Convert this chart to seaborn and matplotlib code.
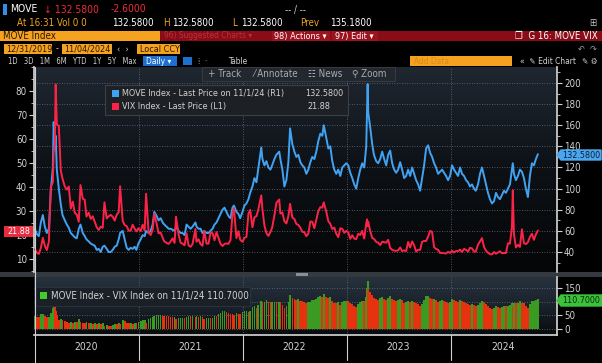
import matplotlib
matplotlib.use("Agg")
import matplotlib.pyplot as plt
import matplotlib.dates as mdates
import matplotlib.transforms as mtransforms
from matplotlib.patches import Rectangle, Polygon
from matplotlib.lines import Line2D
from matplotlib.colors import LinearSegmentedColormap
from matplotlib.ticker import MultipleLocator
import numpy as np
import pandas as pd
import seaborn as sns

# weekly closes (plus the spike days)
dates_2020 = ['2020-01-03', '2020-01-10', '2020-01-17', '2020-01-24', '2020-01-31',
              '2020-02-07', '2020-02-14', '2020-02-21', '2020-02-28',
              '2020-03-06', '2020-03-09', '2020-03-13', '2020-03-16', '2020-03-20', '2020-03-27',
              '2020-04-03', '2020-04-09', '2020-04-17', '2020-04-24',
              '2020-05-01', '2020-05-08', '2020-05-15', '2020-05-22', '2020-05-29',
              '2020-06-05', '2020-06-11', '2020-06-19', '2020-06-26',
              '2020-07-02', '2020-07-10', '2020-07-17', '2020-07-24', '2020-07-31',
              '2020-08-07', '2020-08-14', '2020-08-21', '2020-08-28',
              '2020-09-03', '2020-09-11', '2020-09-18', '2020-09-25',
              '2020-10-02', '2020-10-09', '2020-10-16', '2020-10-23', '2020-10-28',
              '2020-11-06', '2020-11-13', '2020-11-20', '2020-11-27',
              '2020-12-04', '2020-12-11', '2020-12-18', '2020-12-24', '2020-12-31']
vix_2020 = [14.0, 12.6, 12.1, 14.6, 18.8, 15.5, 13.7, 17.1, 40.1,
            41.9, 54.5, 57.8, 82.7, 66.0, 65.5, 46.8, 43.5, 40.2, 38.9,
            40.2, 31.0, 33.9, 29.2, 28.5, 25.5, 40.8, 35.1, 34.7,
            27.7, 29.3, 26.7, 27.8, 25.5, 23.2, 22.1, 23.5, 23.0,
            33.6, 26.9, 27.8, 28.4, 27.6, 26.0, 28.4, 29.6, 40.3,
            25.9, 24.1, 23.7, 21.8, 21.8, 24.3, 22.6, 21.5, 22.8]
move_2020 = [62, 57, 55, 68, 75, 64, 58, 62, 98,
             120, 163, 140, 150, 118, 100, 85, 75, 70, 66,
             63, 58, 56, 54, 53, 62, 66, 58, 55,
             52, 50, 48, 47, 46, 42, 43, 40, 45,
             46, 43, 40, 40, 42, 45, 46, 52, 58,
             60, 52, 44, 42, 44, 43, 45, 42, 48]

dates_2021 = ['2021-01-08', '2021-01-15', '2021-01-22', '2021-01-27',
              '2021-02-05', '2021-02-12', '2021-02-19', '2021-02-25',
              '2021-03-05', '2021-03-12', '2021-03-19', '2021-03-26',
              '2021-04-01', '2021-04-09', '2021-04-16', '2021-04-23', '2021-04-30',
              '2021-05-07', '2021-05-12', '2021-05-21', '2021-05-28',
              '2021-06-04', '2021-06-11', '2021-06-18', '2021-06-25',
              '2021-07-02', '2021-07-09', '2021-07-19', '2021-07-23', '2021-07-30',
              '2021-08-06', '2021-08-13', '2021-08-19', '2021-08-27',
              '2021-09-03', '2021-09-10', '2021-09-17', '2021-09-24',
              '2021-10-01', '2021-10-08', '2021-10-15', '2021-10-22', '2021-10-29',
              '2021-11-05', '2021-11-12', '2021-11-19', '2021-11-26',
              '2021-12-01', '2021-12-10', '2021-12-17', '2021-12-23', '2021-12-31']
vix_2021 = [21.6, 24.3, 21.9, 37.2, 20.9, 20.0, 22.1, 28.9,
            24.7, 20.7, 21.0, 18.9, 17.3, 16.7, 16.3, 17.3, 18.6,
            16.7, 27.6, 20.2, 16.8, 16.4, 15.7, 20.7, 15.6,
            15.1, 16.2, 22.5, 17.2, 18.2, 16.2, 15.5, 21.7, 16.4,
            16.4, 21.0, 20.8, 17.8, 21.2, 18.8, 16.3, 15.4, 16.3,
            16.5, 16.3, 17.9, 28.6, 31.1, 18.7, 21.6, 18.0, 17.2]
move_2021 = [52, 56, 55, 60, 58, 60, 66, 78,
             74, 70, 72, 68, 66, 64, 62, 62, 61,
             60, 64, 60, 58, 58, 56, 66, 64,
             62, 64, 68, 64, 62, 62, 58, 60, 58,
             58, 60, 62, 66, 68, 72, 76, 80, 82,
             78, 74, 72, 82, 84, 78, 76, 72, 78]

dates_2022 = ['2022-01-07', '2022-01-14', '2022-01-21', '2022-01-27',
              '2022-02-04', '2022-02-11', '2022-02-18', '2022-02-24',
              '2022-03-07', '2022-03-11', '2022-03-18', '2022-03-25',
              '2022-04-01', '2022-04-08', '2022-04-14', '2022-04-22', '2022-04-29',
              '2022-05-09', '2022-05-13', '2022-05-20', '2022-05-27',
              '2022-06-03', '2022-06-10', '2022-06-16', '2022-06-24',
              '2022-07-01', '2022-07-08', '2022-07-15', '2022-07-22', '2022-07-29',
              '2022-08-05', '2022-08-12', '2022-08-19', '2022-08-26',
              '2022-09-02', '2022-09-09', '2022-09-16', '2022-09-23', '2022-09-30',
              '2022-10-07', '2022-10-12', '2022-10-21', '2022-10-28',
              '2022-11-04', '2022-11-11', '2022-11-18', '2022-11-25',
              '2022-12-02', '2022-12-09', '2022-12-16', '2022-12-23', '2022-12-30']
vix_2022 = [18.8, 19.2, 28.9, 30.5, 23.2, 27.4, 27.8, 30.3,
            36.5, 30.8, 23.9, 20.8, 19.6, 21.2, 23.0, 28.2, 33.4,
            34.8, 28.9, 29.4, 25.7, 24.8, 27.8, 33.0, 27.2,
            26.7, 24.6, 24.2, 23.0, 21.3, 21.2, 19.5, 20.6, 25.6,
            25.5, 22.8, 26.3, 29.9, 31.6, 31.4, 33.6, 29.7, 25.8,
            24.6, 22.5, 23.1, 20.5, 19.1, 22.8, 22.6, 20.9, 21.7]
move_2022 = [84, 86, 90, 96, 102, 110, 106, 118,
             139, 128, 122, 126, 120, 118, 122, 128, 132,
             135, 128, 118, 102, 108, 125, 157, 142,
             135, 130, 132, 125, 122, 120, 114, 118, 125,
             130, 128, 135, 145, 152, 150, 160, 148, 138,
             140, 126, 118, 114, 118, 112, 120, 122, 124]

dates_2023 = ['2023-01-06', '2023-01-13', '2023-01-20', '2023-01-27',
              '2023-02-03', '2023-02-10', '2023-02-17', '2023-02-24',
              '2023-03-03', '2023-03-10', '2023-03-13', '2023-03-15', '2023-03-17', '2023-03-24', '2023-03-31',
              '2023-04-06', '2023-04-14', '2023-04-21', '2023-04-28',
              '2023-05-05', '2023-05-12', '2023-05-19', '2023-05-26',
              '2023-06-02', '2023-06-09', '2023-06-16', '2023-06-23', '2023-06-30',
              '2023-07-07', '2023-07-14', '2023-07-21', '2023-07-28',
              '2023-08-04', '2023-08-11', '2023-08-18', '2023-08-25',
              '2023-09-01', '2023-09-08', '2023-09-15', '2023-09-22', '2023-09-29',
              '2023-10-06', '2023-10-13', '2023-10-20', '2023-10-27',
              '2023-11-03', '2023-11-10', '2023-11-17', '2023-11-24',
              '2023-12-01', '2023-12-08', '2023-12-15', '2023-12-22', '2023-12-29']
vix_2023 = [21.1, 18.4, 19.9, 18.5, 18.3, 20.5, 20.0, 21.7,
            18.5, 24.8, 26.5, 23.7, 25.5, 21.7, 18.7,
            18.4, 17.1, 16.8, 15.8, 17.2, 17.0, 16.8, 18.0,
            14.6, 13.8, 13.5, 13.4, 13.6, 14.8, 13.3, 13.6, 13.3,
            17.1, 14.8, 17.3, 15.7, 13.1, 13.8, 13.8, 17.2, 17.5,
            17.5, 19.3, 21.7, 21.3, 14.9, 14.2, 13.8, 12.5,
            12.6, 12.4, 12.3, 13.0, 12.5]
move_2023 = [122, 115, 110, 104, 100, 110, 118, 124,
             120, 140, 175, 199, 172, 158, 142,
             132, 126, 124, 128, 135, 128, 122, 132,
             136, 124, 118, 115, 118, 125, 118, 110, 112,
             118, 112, 120, 114, 108, 104, 98, 110, 122,
             138, 141, 134, 130, 124, 120, 114, 116,
             118, 115, 112, 108, 112]

dates_2024 = ['2024-01-05', '2024-01-12', '2024-01-19', '2024-01-26',
              '2024-02-02', '2024-02-09', '2024-02-16', '2024-02-23',
              '2024-03-01', '2024-03-08', '2024-03-15', '2024-03-22', '2024-03-28',
              '2024-04-05', '2024-04-12', '2024-04-19', '2024-04-26',
              '2024-05-03', '2024-05-10', '2024-05-17', '2024-05-24', '2024-05-31',
              '2024-06-07', '2024-06-14', '2024-06-21', '2024-06-28',
              '2024-07-05', '2024-07-12', '2024-07-19', '2024-07-26',
              '2024-08-02', '2024-08-05', '2024-08-09', '2024-08-16', '2024-08-23', '2024-08-30',
              '2024-09-06', '2024-09-13', '2024-09-20', '2024-09-27',
              '2024-10-04', '2024-10-11', '2024-10-18', '2024-10-25', '2024-11-01']
vix_2024 = [13.4, 12.7, 13.3, 13.3, 13.9, 12.9, 14.2, 13.8,
            13.1, 14.7, 14.4, 13.1, 13.0, 16.0, 17.3, 18.7, 15.0,
            13.5, 12.6, 12.0, 11.9, 12.9, 12.2, 12.7, 13.2, 12.4,
            12.5, 12.5, 16.5, 16.4, 23.4, 38.6, 20.4, 14.8, 15.9, 15.0,
            22.4, 16.6, 16.2, 17.0, 19.2, 20.5, 18.0, 20.3, 21.88]
move_2024 = [122, 118, 115, 112, 120, 114, 112, 108,
             106, 102, 104, 100, 98, 104, 114, 120, 112,
             104, 96, 90, 86, 88, 96, 92, 90, 94,
             98, 96, 100, 104, 118, 124, 114, 108, 112, 118,
             116, 110, 100, 92, 112, 124, 122, 128, 132.58]

years = ['2020', '2021', '2022', '2023', '2024']
spread_ticks = [0, 50, 100, 150]
spread_labels = ['0', '50', '', '150']   # 100 sits under the last-value tag

df = pd.DataFrame({
    'date': pd.to_datetime(dates_2020 + dates_2021 + dates_2022 + dates_2023 + dates_2024),
    'VIX': vix_2020 + vix_2021 + vix_2022 + vix_2023 + vix_2024,
    'MOVE': move_2020 + move_2021 + move_2022 + move_2023 + move_2024,
})
df['spread'] = df['MOVE'] - df['VIX']
df['up'] = df['spread'].diff().fillna(0) >= 0

sns.set_theme(style="dark")
plt.rcParams['font.family'] = ['DejaVu Sans']
plt.rcParams['font.stretch'] = 'condensed'
plt.rcParams['axes.facecolor'] = 'none'

W, H = 602, 363
fig = plt.figure(figsize=(W / 100, H / 100), dpi=100, facecolor='black')


def frect(x0, y0, x1, y1):
    return [x0 / W, 1 - y1 / H, (x1 - x0) / W, (y1 - y0) / H]


def box(x0, y0, x1, y1, color, z=1):
    fig.patches.append(Rectangle((x0 / W, 1 - y1 / H), (x1 - x0) / W, (y1 - y0) / H,
                                 transform=fig.transFigure, color=color, zorder=z, lw=0))


def txt(x, y, s, color, size=7, ha='left', **kw):
    fig.text(x / W, 1 - y / H, s, color=color, fontsize=size, ha=ha, va='center', **kw)


AMBER = '#f4a21f'
GRAY = '#d2d2d2'
BLUE = '#41a2f2'
RED = '#fb2448'

# ---- header rows ----
box(3, 4, 7, 15, '#2f8fe6')
txt(10, 9.5, 'MOVE', 'white', 7.5)
txt(44, 9.5, '↓ 132.5800', '#ee2a3a', 7.5)
txt(111, 9.5, '-2.6000', '#ee2a3a', 7.5)
txt(285, 9.5, '-- / --', '#cfcfcf', 7)
txt(17, 23, 'At 16:31 Vol 0 0', AMBER, 7)
txt(112, 23, '132.5800', 'white', 7)
txt(163, 23, 'H', AMBER, 7)
txt(172, 23, '132.5800', 'white', 7)
txt(232, 23, 'L', AMBER, 7)
txt(241, 23, '132.5800', 'white', 7)
txt(300, 23, 'Prev', AMBER, 7)
txt(330, 23, '135.1800', 'white', 7)
txt(597, 23, '⊞', '#bdbdbd', 7, ha='right')

box(0, 31, 160, 41, AMBER)
box(160, 31, 602, 41, '#8a0c16')
box(272, 31, 330, 41, '#9c1320')
box(332, 31, 378, 41, '#9c1320')
txt(3, 36, 'MOVE Index', '#2a1600', 7)
txt(164, 36, '96) Suggested Charts ▾', '#b8323c', 6)
txt(274, 36, '98) Actions ▾', 'white', 6.5)
txt(335, 36, '97) Edit ▾', 'white', 6.5)
txt(598, 36, '❐  G 16: MOVE VIX', 'white', 7, ha='right')

box(4, 44, 52, 54, AMBER)
box(62, 44, 112, 54, AMBER)
box(137, 44, 180, 54, AMBER)
txt(6, 49, '12/31/2019', '#2a1600', 6.5)
txt(56, 49, '-', GRAY, 6.5)
txt(64, 49, '11/04/2024', '#2a1600', 6.5)
txt(117, 49, '‹  ›', GRAY, 6.5)
txt(140, 49, 'Local CCY', '#2a1600', 6.5)
txt(597, 49, '↶  ↷', '#9a9a9a', 6.5, ha='right')

txt(8, 61, '1D   3D   1M   6M   YTD   1Y   5Y   Max', GRAY, 5.5)
box(143, 56, 177, 66, '#1f6fd0')
txt(146, 61, 'Daily ▾', 'white', 6)
box(183, 57, 192, 65, '#1f6fd0')
txt(198, 61, '⁞  ·', GRAY, 6)
txt(228, 61, 'Table', GRAY, 6)
box(410, 56, 512, 66, AMBER)
txt(414, 61, 'Add Data', '#d98a1a', 6)
txt(520, 61, '«  ✎ Edit Chart', GRAY, 6)
txt(597, 61, '✎ ⚙', GRAY, 6, ha='right')

# ---- background panels ----
grad = np.linspace(0, 1, 256).reshape(-1, 1)
bg_main = LinearSegmentedColormap.from_list('bgm', ['#050607', '#0d1116', '#1f2731'])
bg_low = LinearSegmentedColormap.from_list('bgl', ['#090b0d', '#1a222b', '#27323d'])
for rect, cmap in [(frect(34, 67, 557, 272), bg_main), (frect(34, 277, 557, 335), bg_low)]:
    bax = fig.add_axes(rect, zorder=0)
    bax.imshow(grad, aspect='auto', cmap=cmap, origin='lower', extent=[0, 1, 0, 1])
    bax.set_axis_off()
box(0, 272, 602, 277, '#353a40', z=0.5)
box(296, 273, 308, 275.5, '#8a8f95', z=0.6)

xmin, xmax = pd.Timestamp('2019-12-31'), pd.Timestamp('2025-01-07')
year_starts = pd.to_datetime(['2020-01-01', '2021-01-01', '2022-01-01', '2023-01-01', '2024-01-01'])
mid_years = pd.to_datetime([y + '-07-01' for y in years])
grid_kw = dict(color='#6a7078', ls=(0, (1, 2)), lw=0.6)

# ---- main panel: MOVE on the right axis, VIX on the left ----
ax = fig.add_axes(frect(34, 67, 557, 272), zorder=1)
sns.lineplot(data=df, x='date', y='MOVE', ax=ax, color=BLUE, lw=1.4)
ax2 = ax.twinx()
sns.lineplot(data=df, x='date', y='VIX', ax=ax2, color=RED, lw=1.4)

ax.set_xlim(xmin, xmax)
ax.set_ylim(21.1, 215.1)
ax2.set_ylim(4.58, 90)
ax.yaxis.tick_right()
ax.set_yticks(range(40, 201, 20))
ax.yaxis.set_minor_locator(MultipleLocator(10))
ax2.yaxis.tick_left()
ax2.set_yticks(range(10, 81, 10))
ax2.yaxis.set_minor_locator(MultipleLocator(5))
ax.set_xticks(year_starts)
ax.grid(False)
ax2.grid(False)
for y in range(40, 201, 20):
    ax.axhline(y, zorder=0.5, **grid_kw)
for d in year_starts[1:]:
    ax.axvline(d, zorder=0.5, **grid_kw)
for a in (ax, ax2):
    a.set_xlabel('')
    a.set_ylabel('')
    a.tick_params(axis='x', length=0, labelbottom=False)
    a.tick_params(axis='y', which='major', direction='out', length=3.5, width=0.8,
                  colors=GRAY, labelsize=7, pad=1.5)
    a.tick_params(axis='y', which='minor', direction='out', length=2, width=0.6, colors=GRAY)
    for s in a.spines.values():
        s.set_visible(False)
ax.spines['left'].set_visible(True)
ax.spines['right'].set_visible(True)
ax.spines['left'].set_color('#cfcfcf')
ax.spines['right'].set_color('#cfcfcf')

# legend box
fig.patches.append(Rectangle((105 / W, 1 - 115 / H), 243 / W, 30 / H, transform=fig.transFigure,
                             facecolor='#1d2126', edgecolor='#3a4048', lw=0.8, zorder=2))
box(112, 90, 119, 97, BLUE, z=3)
box(112, 103, 119, 110, RED, z=3)
txt(122, 93.5, 'MOVE Index - Last Price on 11/1/24 (R1)', GRAY, 6.5)
txt(305, 93.5, '132.5800', GRAY, 6.5)
txt(122, 106.5, 'VIX Index - Last Price (L1)', GRAY, 6.5)
txt(307, 106.5, '21.88', GRAY, 6.5)

# toolbar overlay
fig.patches.append(Rectangle((202 / W, 1 - 81 / H), 193 / W, 14 / H, transform=fig.transFigure,
                             facecolor='#23282e', edgecolor='#3a4048', lw=0.6, zorder=2))
txt(208, 74, '+ Track', '#a8acb0', 7)
txt(254, 74, '⁄ Annotate', '#a8acb0', 7)
txt(308, 74, '☷ News', '#a8acb0', 7)
txt(352, 74, '⚲ Zoom', '#a8acb0', 7)

# last value tags
fig.patches.append(Polygon([(557 / W, 1 - 155 / H), (561 / W, 1 - 150 / H), (601 / W, 1 - 150 / H),
                            (601 / W, 1 - 160 / H), (561 / W, 1 - 160 / H)],
                           closed=True, transform=fig.transFigure, color='#4aa6ef', zorder=3))
txt(581, 155, '132.5800', '#0b1e33', 6.5, ha='center', zorder=4)
box(4, 226, 33, 237, '#e82b40', z=3)
txt(18.5, 231.5, '21.88', 'white', 6.5, ha='center', zorder=4)

# ---- lower panel: spread bars, green when the spread rose, red when it fell ----
ax3 = fig.add_axes(frect(34, 277, 557, 335), zorder=1)
bar_colors = np.where(df['up'], '#3a9a22', '#e6320e')
ax3.bar(df['date'], df['spread'], width=6, color=bar_colors, linewidth=0)
ax3.set_xlim(xmin, xmax)
ax3.set_ylim(-22, 190)
ax3.yaxis.tick_right()
ax3.set_yticks(spread_ticks)
ax3.set_yticklabels(spread_labels)
ax3.grid(False)
for y in spread_ticks:
    ax3.axhline(y, zorder=0.5, **grid_kw)
for d in year_starts[1:]:
    ax3.axvline(d, zorder=0.5, **grid_kw)
ax3.xaxis.set_major_locator(mdates.YearLocator())
ax3.xaxis.set_minor_locator(mdates.MonthLocator(bymonth=[4, 7, 10]))
ax3.tick_params(axis='x', which='major', length=0, labelbottom=False)
ax3.tick_params(axis='x', which='minor', direction='out', length=2.5, width=0.7, colors=GRAY)
ax3.tick_params(axis='y', direction='out', length=3.5, width=0.8, colors=GRAY, labelsize=7, pad=1.5)
for s in ax3.spines.values():
    s.set_visible(False)
ax3.spines['bottom'].set_visible(True)
ax3.spines['bottom'].set_color('#cfcfcf')
ax3.spines['right'].set_visible(True)
ax3.spines['right'].set_color('#cfcfcf')

fig.patches.append(Rectangle((36 / W, 1 - 306 / H), 214 / W, 19 / H, transform=fig.transFigure,
                             facecolor='#1a2027', edgecolor='#2e353d', lw=0.6, zorder=2))
box(40, 292, 47, 299, '#3fcc2c', z=3)
txt(51, 296, 'MOVE Index - VIX Index on 11/1/24 110.7000', GRAY, 7)
fig.patches.append(Polygon([(557 / W, 1 - 300.5 / H), (561 / W, 1 - 295 / H), (602 / W, 1 - 295 / H),
                            (602 / W, 1 - 306 / H), (561 / W, 1 - 306 / H)],
                           closed=True, transform=fig.transFigure, color='#3cc23a', zorder=3))
txt(581.5, 300.5, '110.7000', '#0b2a0b', 6.5, ha='center', zorder=4)

# left frame line and year separators running below the axis
fig.add_artist(Line2D([34.5 / W, 34.5 / W], [1 - 67 / H, 0], color='#cfcfcf', lw=0.8))
xt = mtransforms.blended_transform_factory(ax3.transData, fig.transFigure)
for d in year_starts[1:]:
    ax3.add_line(Line2D([d, d], [1 - 335 / H, 1 - 360 / H], transform=xt, color='#cfcfcf',
                        lw=0.8, clip_on=False))
for d, y in zip(mid_years, years):
    ax3.text(d, 1 - 347 / H, y, transform=xt, color=GRAY, fontsize=7.5, ha='center', va='center')

fig.savefig('out.png', dpi=100, facecolor='black')
